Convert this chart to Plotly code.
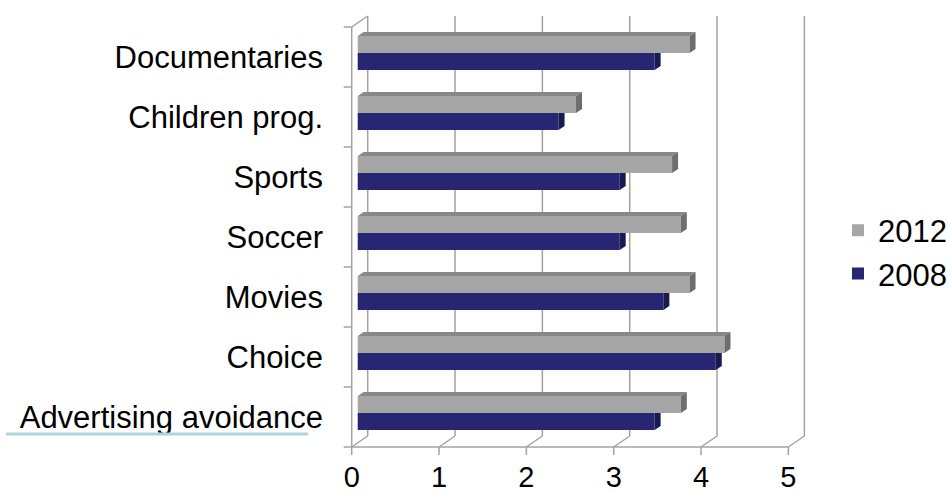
import plotly.graph_objects as go

# Survey scores per programme type (bottom category first)
categories = ["Advertising avoidance", "Choice", "Movies", "Soccer",
              "Sports", "Children prog.", "Documentaries"]
values_2012 = [3.7, 4.2, 3.8, 3.7, 3.6, 2.5, 3.8]
values_2008 = [3.4, 4.1, 3.5, 3.0, 3.0, 2.3, 3.4]
x_ticks = [0, 1, 2, 3, 4, 5]
series_names = ["2012", "2008"]

# ---- canvas / scale setup -------------------------------------------------
W, H = 948, 492
L, R, T, B = 336, 136, 8, 30
PX_X = 87.33    # pixels per value unit
PX_Y = 60.0     # pixels per category band
X0_PX = 351.7   # pixel column of value 0 on the front plane
Y0_PX = 447.0   # pixel row of the front floor edge
plot_w = W - L - R
plot_h = H - T - B

x_range = [(L - X0_PX) / PX_X, (W - R - X0_PX) / PX_X]
y_range = [(Y0_PX - (H - B)) / PX_Y, (Y0_PX - T) / PX_Y]


def paper_x(px):
    return (px - L) / plot_w


def paper_y(py):
    return ((H - B) - py) / plot_h


# pseudo-3D depth offsets (in axis units)
WALL_DX, WALL_DY = 16 / PX_X, 11 / PX_Y      # full depth of walls / floor
BAR_X0, BAR_Y0 = 6 / PX_X, 4.1 / PX_Y        # bar front face inset
BAR_DX, BAR_DY = 6 / PX_X, 4.0 / PX_Y        # bar thickness in depth
BAR_W = 17 / PX_Y                            # height of one bar

GRID = "#A3A3A3"
GRAY_FRONT, GRAY_TOP, GRAY_SIDE = "#A6A6A6", "#878787", "#6E6E6E"
BLUE_FRONT, BLUE_SIDE = "#262673", "#1A1A52"
FONT = "Liberation Sans, Arial, sans-serif"
FONT_SIZE = 31

n = len(categories)
fig = go.Figure()

# ---- frame: back wall gridlines, floor, left wall, tick marks -------------
shapes = []


def seg(x0, y0, x1, y1):
    shapes.append(dict(type="line", xref="x", yref="y", layer="below",
                       x0=x0, y0=y0, x1=x1, y1=y1,
                       line=dict(color=GRID, width=1.5)))


for v in x_ticks:
    seg(v + WALL_DX, WALL_DY, v + WALL_DX, n + WALL_DY)   # back wall
    seg(v, 0, v + WALL_DX, WALL_DY)                       # floor diagonal
    seg(v, 0, v, -8 / PX_Y)                               # tick mark
seg(0, 0, x_ticks[-1], 0)                 # front floor edge
seg(0, 0, 0, n)                           # left wall front edge
seg(0, n, WALL_DX, n + WALL_DY)           # left wall top edge
for k in range(n + 1):
    seg(-8 / PX_X, k, 0, k)               # category boundary ticks

# underline beneath the bottom category label
shapes.append(dict(type="line", xref="paper", yref="paper",
                   x0=paper_x(6), x1=paper_x(308),
                   y0=paper_y(434), y1=paper_y(434),
                   line=dict(color="#A9D6DC", width=3)))

# ---- bars (front faces) ---------------------------------------------------
centers = [i + 0.5 + BAR_Y0 for i in range(n)]
y_2012 = [c + BAR_W / 2 for c in centers]
y_2008 = [c - BAR_W / 2 for c in centers]

fig.add_trace(go.Bar(y=y_2012, x=values_2012, base=BAR_X0, orientation="h",
                     width=BAR_W, name=series_names[0],
                     marker=dict(color=GRAY_FRONT, line=dict(width=0)),
                     customdata=categories,
                     hovertemplate="%{customdata}: %{x}<extra>2012</extra>"))
fig.add_trace(go.Bar(y=y_2008, x=values_2008, base=BAR_X0, orientation="h",
                     width=BAR_W, name=series_names[1],
                     marker=dict(color=BLUE_FRONT, line=dict(width=0)),
                     customdata=categories,
                     hovertemplate="%{customdata}: %{x}<extra>2008</extra>"))


# ---- bar top and end faces -------------------------------------------------
def polys(list_of_pts):
    xs, ys = [], []
    for pts in list_of_pts:
        for px, py in pts:
            xs.append(px)
            ys.append(py)
        xs.append(pts[0][0])
        ys.append(pts[0][1])
        xs.append(None)
        ys.append(None)
    return xs, ys


gray_top, gray_side, blue_side = [], [], []
for c, vg, vb in zip(centers, values_2012, values_2008):
    x0 = BAR_X0
    g1 = BAR_X0 + vg
    b1 = BAR_X0 + vb
    gt, gb = c + BAR_W, c
    bt, bb = c, c - BAR_W
    gray_top.append([(x0, gt), (g1, gt), (g1 + BAR_DX, gt + BAR_DY),
                     (x0 + BAR_DX, gt + BAR_DY)])
    gray_side.append([(g1, gb), (g1, gt), (g1 + BAR_DX, gt + BAR_DY),
                      (g1 + BAR_DX, gb + BAR_DY)])
    # the upper part of the blue end face is hidden behind the longer grey bar
    top_right = bt if vb < vg else bt + BAR_DY
    blue_side.append([(b1, bb), (b1, bt), (b1 + BAR_DX, top_right),
                      (b1 + BAR_DX, bb + BAR_DY)])

for pts, col in ((gray_top, GRAY_TOP), (gray_side, GRAY_SIDE),
                 (blue_side, BLUE_SIDE)):
    xs, ys = polys(pts)
    fig.add_trace(go.Scatter(x=xs, y=ys, mode="lines", fill="toself",
                             fillcolor=col, line=dict(width=0, color=col),
                             hoverinfo="skip", showlegend=False))

# ---- layout ---------------------------------------------------------------
fig.update_layout(
    width=W, height=H,
    margin=dict(l=L, r=R, t=T, b=B, pad=0, autoexpand=False),
    paper_bgcolor="white", plot_bgcolor="white",
    barmode="overlay",
    font=dict(family=FONT, size=FONT_SIZE, color="black"),
    shapes=shapes,
    showlegend=True,
    legend=dict(xref="container", yref="container",
                x=838 / W, y=1 - 252 / H, xanchor="left",
                yanchor="middle", traceorder="normal",
                font=dict(family=FONT, size=FONT_SIZE, color="black"),
                bgcolor="rgba(0,0,0,0)", itemclick=False),
    xaxis=dict(range=x_range, tickvals=x_ticks,
               ticktext=[str(v) for v in x_ticks], automargin=False,
               tickfont=dict(size=29),
               showgrid=False, zeroline=False, showline=False, ticks="",
               ticklabelstandoff=-5, fixedrange=True),
    yaxis=dict(range=y_range, tickvals=[i + 0.5 for i in range(n)],
               ticktext=categories, automargin=False,
               showgrid=False, zeroline=False, showline=False, ticks="",
               ticklabelstandoff=12, fixedrange=True),
)

fig.write_html("out.html")
